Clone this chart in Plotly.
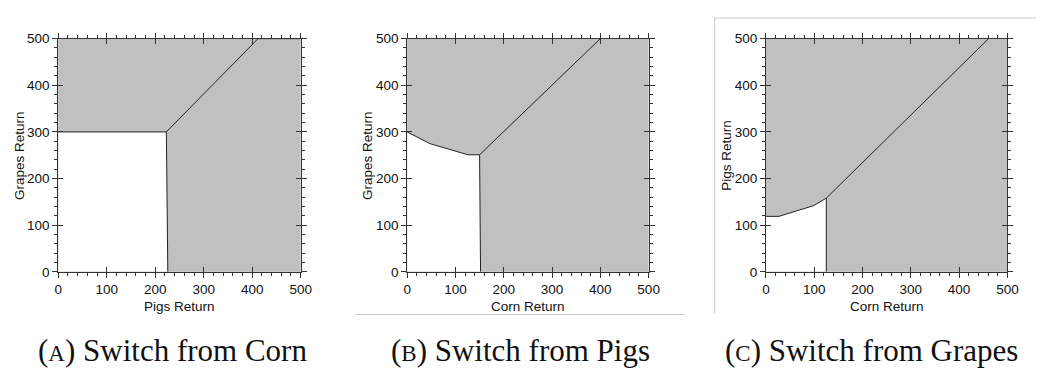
import plotly.graph_objects as go

W, H = 1047, 371

# Frontier of the "stay" (white) region and the split line between the two
# switching regions, for each of the three decision plots.
a_stay_x = [0, 223, 226]
a_stay_y = [300, 300, 0]
a_split_x = [223, 412, 500]
a_split_y = [300, 500, 500]

b_stay_x = [0, 47, 126, 150, 152]
b_stay_y = [300, 275, 251, 251, 0]
b_split_x = [150, 400]
b_split_y = [251, 500]

c_stay_x = [0, 27, 99, 125, 125]
c_stay_y = [119, 119, 142, 158, 0]
c_split_x = [125, 461]
c_split_y = [158, 500]

x_titles = ["Pigs Return", "Corn Return", "Corn Return"]
y_titles = ["Grapes Return", "Grapes Return", "Pigs Return"]
captions = ["A", "B", "C"]
caption_text = ["Switch from Corn", "Switch from Pigs", "Switch from Grapes"]
tick_vals = [0, 100, 200, 300, 400, 500]

panels = [
    (a_stay_x, a_stay_y, a_split_x, a_split_y),
    (b_stay_x, b_stay_y, b_split_x, b_split_y),
    (c_stay_x, c_stay_y, c_split_x, c_split_y),
]

# plot-area placement in pixels
x_px = [(55, 301), (409, 654), (773, 1018)]
y_top_px, y_bot_px = 33, 276
caption_cx = [171, 524, 880]
ytitle_cx = [15, 369, 733]

GRAY = "#c0c0c0"
AXC = "#333333"
TICKFONT = dict(family="Liberation Sans, Arial, sans-serif", size=13.5, color="#111")

fig = go.Figure()
layout = dict(
    width=W, height=H,
    margin=dict(l=0, r=0, t=0, b=0),
    paper_bgcolor="white",
    plot_bgcolor=GRAY,
    showlegend=False,
    shapes=[], annotations=[],
)

ydom = [1 - y_bot_px / H, 1 - y_top_px / H]

for i, (sx, sy, dx, dy) in enumerate(panels):
    n = i + 1
    xa = "x" if n == 1 else f"x{n}"
    ya = "y" if n == 1 else f"y{n}"
    xo, yo = f"x{n + 3}", f"y{n + 3}"
    xdom = [x_px[i][0] / W, x_px[i][1] / W]

    # white "stay" region
    fig.add_trace(go.Scatter(
        x=[0] + sx, y=[0] + sy, fill="toself", fillcolor="white",
        mode="none", xaxis=xa, yaxis=ya, hoverinfo="skip"))
    # its boundary
    fig.add_trace(go.Scatter(
        x=sx, y=sy, mode="lines", line=dict(color="#222", width=1),
        xaxis=xa, yaxis=ya, hoverinfo="skip"))
    # split line between the two switching regions
    fig.add_trace(go.Scatter(
        x=dx, y=dy, mode="lines", line=dict(color="#222", width=1),
        xaxis=xa, yaxis=ya, hoverinfo="skip"))
    # empty trace on the overlay axes carrying the inward major ticks
    fig.add_trace(go.Scatter(
        x=[None], y=[None], mode="markers",
        xaxis=xo, yaxis=yo, hoverinfo="skip"))

    common = dict(
        range=[0, 500], showgrid=False, zeroline=False,
        tickvals=tick_vals, fixedrange=True,
    )
    layout["xaxis" if n == 1 else f"xaxis{n}"] = dict(
        common, domain=xdom, anchor=ya,
        showline=True, linecolor=AXC, linewidth=1, mirror="ticks",
        ticks="outside", ticklen=5, tickcolor=AXC, tickwidth=1,
        minor=dict(ticks="outside", ticklen=3, dtick=20, tickcolor=AXC),
        tickfont=TICKFONT,
    )
    layout["yaxis" if n == 1 else f"yaxis{n}"] = dict(
        common, domain=ydom, anchor=xa,
        showline=True, linecolor=AXC, linewidth=1, mirror="ticks",
        ticks="outside", ticklen=5, tickcolor=AXC, tickwidth=1,
        minor=dict(ticks="outside", ticklen=3, dtick=20, tickcolor=AXC),
        tickfont=TICKFONT,
    )
    inner = dict(common, showline=False, showticklabels=False,
                 ticks="inside", ticklen=5, tickcolor=AXC, tickwidth=1,
                 mirror="ticks")
    layout[f"xaxis{n + 3}"] = dict(inner, overlaying=xa, anchor=yo, domain=xdom)
    layout[f"yaxis{n + 3}"] = dict(inner, overlaying=ya, anchor=xo, domain=ydom)

    # axis titles
    layout["annotations"].append(dict(
        xref="paper", yref="paper",
        x=(x_px[i][0] + x_px[i][1]) / 2 / W, y=1 - 312 / H,
        xanchor="center", yanchor="middle", showarrow=False,
        text=x_titles[i], font=TICKFONT,
    ))
    layout["annotations"].append(dict(
        xref="paper", yref="paper",
        x=ytitle_cx[i] / W, y=1 - (y_top_px + y_bot_px) / 2 / H,
        xanchor="center", yanchor="middle", showarrow=False, textangle=-90,
        text=y_titles[i], font=TICKFONT,
    ))

    # panel caption
    layout["annotations"].append(dict(
        xref="paper", yref="paper",
        x=caption_cx[i] / W, y=1 - 358 / H,
        xanchor="center", yanchor="middle", showarrow=False,
        text=f"(<span style='font-size:23px'>{captions[i]}</span>) {caption_text[i]}",
        font=dict(family="Liberation Serif, Times New Roman, serif", size=31, color="#111"),
    ))

# thin page-frame rules around the panels
FRAME = "#cccccc"
def hline(x0, x1, y):
    return dict(type="line", xref="paper", yref="paper",
                x0=x0 / W, x1=x1 / W, y0=1 - y / H, y1=1 - y / H,
                line=dict(color=FRAME, width=1))
def vline(x, y0, y1):
    return dict(type="line", xref="paper", yref="paper",
                x0=x / W, x1=x / W, y0=1 - y0 / H, y1=1 - y1 / H,
                line=dict(color=FRAME, width=1))

layout["shapes"] += [
    hline(721, 1047, 11.5),
    vline(721, 11.5, 320),
    hline(357, 690, 320.5),
]

fig.update_layout(**layout)
fig.write_html("out.html")
